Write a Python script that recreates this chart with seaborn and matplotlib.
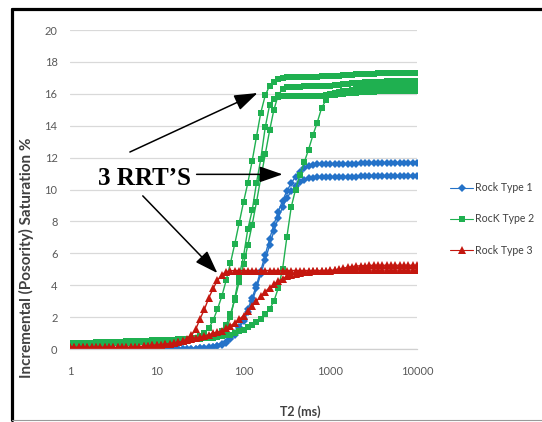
"""NMR T2 incremental saturation curves for three reservoir rock types."""

import matplotlib
matplotlib.use("Agg")
import matplotlib.pyplot as plt
from matplotlib.lines import Line2D
import numpy as np
import pandas as pd
import seaborn as sns

# T2 bins (ms), 20 per decade
T2_MS = [
    1.00, 1.12, 1.26, 1.41, 1.58, 1.78, 2.00, 2.24, 2.51, 2.82,
    3.16, 3.55, 3.98, 4.47, 5.01, 5.62, 6.31, 7.08, 7.94, 8.91,
    10.0, 11.2, 12.6, 14.1, 15.8, 17.8, 20.0, 22.4, 25.1, 28.2,
    31.6, 35.5, 39.8, 44.7, 50.1, 56.2, 63.1, 70.8, 79.4, 89.1,
    100, 112, 126, 141, 158, 178, 200, 224, 251, 282,
    316, 355, 398, 447, 501, 562, 631, 708, 794, 891,
    1000, 1122, 1259, 1413, 1585, 1778, 1995, 2239, 2512, 2818,
    3162, 3548, 3981, 4467, 5012, 5623, 6310, 7079, 7943, 8913,
    10000,
]

# Rock Type 1 (two samples)
RT1_A = [
    0, 0, 0, 0, 0, 0, 0, 0, 0, 0,
    0, 0, 0, 0, 0, 0, 0, 0, 0, 0,
    0, 0, 0, 0, 0, 0, 0, 0, 0.02, 0.03,
    0.05, 0.07, 0.1, 0.15, 0.2, 0.3, 0.45, 0.7, 1.0, 1.4,
    1.9, 2.5, 3.2, 4.0, 4.9, 5.9, 6.9, 7.8, 8.6, 9.3,
    9.9, 10.4, 10.8, 11.1, 11.35, 11.5, 11.55, 11.58, 11.6, 11.6,
    11.6, 11.6, 11.62, 11.62, 11.62, 11.63, 11.63, 11.64, 11.64, 11.64,
    11.65, 11.65, 11.65, 11.65, 11.65, 11.65, 11.65, 11.65, 11.65, 11.65,
    11.65,
]
RT1_B = [
    0, 0, 0, 0, 0, 0, 0, 0, 0, 0,
    0, 0, 0, 0, 0, 0, 0, 0, 0, 0,
    0, 0, 0, 0, 0, 0, 0, 0, 0.01, 0.02,
    0.04, 0.06, 0.09, 0.13, 0.18, 0.27, 0.4, 0.62, 0.9, 1.3,
    1.75, 2.3, 3.0, 3.8, 4.7, 5.6, 6.5, 7.4, 8.2, 8.9,
    9.45, 9.9, 10.2, 10.45, 10.6, 10.7, 10.75, 10.78, 10.8, 10.8,
    10.8, 10.8, 10.8, 10.8, 10.81, 10.81, 10.81, 10.82, 10.82, 10.82,
    10.82, 10.82, 10.82, 10.82, 10.82, 10.82, 10.82, 10.82, 10.82, 10.82,
    10.82,
]

# Rock Type 2 (four samples)
RT2_A = [
    0.3, 0.3, 0.31, 0.32, 0.33, 0.34, 0.35, 0.36, 0.37, 0.38,
    0.39, 0.4, 0.41, 0.42, 0.43, 0.44, 0.45, 0.46, 0.47, 0.48,
    0.5, 0.51, 0.52, 0.54, 0.56, 0.58, 0.6, 0.62, 0.65, 0.7,
    0.8, 1.0, 1.3, 1.8, 2.5, 3.3, 4.3, 5.4, 6.6, 7.9,
    9.2, 10.4, 11.8, 13.3, 14.8, 15.9, 16.5, 16.75, 16.9, 17.0,
    17.05, 17.05, 17.06, 17.06, 17.07, 17.07, 17.08, 17.08, 17.09, 17.09,
    17.1, 17.12, 17.14, 17.16, 17.18, 17.2, 17.22, 17.24, 17.25, 17.26,
    17.27, 17.28, 17.28, 17.29, 17.29, 17.3, 17.3, 17.3, 17.3, 17.3,
    17.3,
]
RT2_B = [
    0.25, 0.26, 0.27, 0.28, 0.29, 0.3, 0.31, 0.32, 0.33, 0.34,
    0.35, 0.36, 0.37, 0.38, 0.39, 0.4, 0.41, 0.42, 0.43, 0.44,
    0.45, 0.46, 0.47, 0.48, 0.5, 0.52, 0.55, 0.58, 0.6, 0.62,
    0.64, 0.66, 0.68, 0.7, 0.75, 0.8, 1.2, 2.0, 3.2, 4.6,
    5.8, 7.5, 8.7, 10.4, 11.9, 13.9, 15.3, 15.7, 15.8, 15.85,
    15.85, 15.86, 15.86, 15.87, 15.87, 15.88, 15.88, 15.89, 15.89, 15.9,
    15.92, 15.95, 15.98, 16.0, 16.03, 16.05, 16.08, 16.1, 16.12, 16.13,
    16.14, 16.15, 16.16, 16.17, 16.18, 16.19, 16.2, 16.2, 16.2, 16.2,
    16.2,
]
RT2_C = [
    0.28, 0.29, 0.3, 0.31, 0.32, 0.33, 0.34, 0.35, 0.36, 0.37,
    0.38, 0.39, 0.4, 0.41, 0.42, 0.43, 0.44, 0.45, 0.46, 0.47,
    0.48, 0.49, 0.5, 0.52, 0.54, 0.56, 0.58, 0.6, 0.62, 0.65,
    0.68, 0.7, 0.72, 0.75, 0.85, 1.1, 1.5, 2.2, 3.1, 4.2,
    5.3, 6.5, 7.8, 9.2, 10.7, 12.2, 13.7, 15.0, 15.9, 16.3,
    16.4, 16.42, 16.44, 16.45, 16.46, 16.47, 16.48, 16.49, 16.5, 16.5,
    16.52, 16.55, 16.58, 16.6, 16.63, 16.65, 16.68, 16.7, 16.72, 16.74,
    16.75, 16.76, 16.77, 16.78, 16.79, 16.8, 16.8, 16.8, 16.8, 16.8,
    16.8,
]
RT2_D = [
    0.35, 0.36, 0.37, 0.38, 0.39, 0.4, 0.41, 0.42, 0.43, 0.44,
    0.45, 0.46, 0.47, 0.48, 0.49, 0.5, 0.51, 0.52, 0.53, 0.54,
    0.55, 0.56, 0.57, 0.58, 0.59, 0.6, 0.6, 0.61, 0.62, 0.63,
    0.65, 0.67, 0.7, 0.72, 0.75, 0.8, 0.85, 0.9, 1.0, 1.1,
    1.2, 1.35, 1.5, 1.7, 1.9, 2.2, 2.5, 3.0, 3.8, 5.0,
    7.0, 8.9, 10.0, 10.9, 11.7, 12.5, 13.4, 14.2, 15.1, 15.6,
    16.0, 16.05, 16.1, 16.15, 16.2, 16.25, 16.3, 16.33, 16.36, 16.38,
    16.4, 16.42, 16.44, 16.45, 16.46, 16.47, 16.48, 16.49, 16.5, 16.5,
    16.5,
]

# Rock Type 3 (two samples)
RT3_A = [
    0.1, 0.1, 0.1, 0.1, 0.1, 0.1, 0.1, 0.1, 0.1, 0.1,
    0.1, 0.1, 0.1, 0.1, 0.12, 0.13, 0.15, 0.17, 0.2, 0.22,
    0.25, 0.27, 0.3, 0.33, 0.37, 0.42, 0.5, 0.62, 0.85, 1.25,
    1.9, 2.5, 3.2, 3.8, 4.3, 4.65, 4.85, 4.9, 4.92, 4.92,
    4.92, 4.92, 4.92, 4.92, 4.92, 4.92, 4.92, 4.92, 4.92, 4.92,
    4.92, 4.92, 4.92, 4.92, 4.92, 4.92, 4.92, 4.92, 4.92, 4.92,
    4.93, 4.93, 4.93, 4.93, 4.94, 4.94, 4.94, 4.94, 4.95, 4.95,
    4.95, 4.95, 4.95, 4.95, 4.95, 4.95, 4.95, 4.95, 4.95, 4.95,
    4.95,
]
RT3_B = [
    0.1, 0.1, 0.1, 0.1, 0.1, 0.1, 0.1, 0.1, 0.1, 0.1,
    0.1, 0.1, 0.1, 0.1, 0.12, 0.13, 0.15, 0.17, 0.2, 0.22,
    0.25, 0.27, 0.3, 0.33, 0.37, 0.42, 0.48, 0.55, 0.62, 0.68,
    0.75, 0.82, 0.9, 0.98, 1.05, 1.15, 1.3, 1.45, 1.65, 1.85,
    2.1, 2.4, 2.7, 3.0, 3.3, 3.6, 3.85, 4.05, 4.25, 4.4,
    4.55, 4.65, 4.72, 4.78, 4.82, 4.85, 4.87, 4.88, 4.89, 4.9,
    4.92, 4.95, 5.0, 5.06, 5.12, 5.16, 5.2, 5.22, 5.23, 5.24,
    5.25, 5.25, 5.25, 5.25, 5.25, 5.25, 5.25, 5.25, 5.25, 5.25,
    5.25,
]

ROCK_NAMES = ["Rock Type 1", "RocK Type 2", "Rock Type 3"]
PALETTE = {"Rock Type 1": "#2472c8", "RocK Type 2": "#1fb050", "Rock Type 3": "#c4170f"}
MARKERS = {"Rock Type 1": "D", "RocK Type 2": "s", "Rock Type 3": "^"}
MARKER_SIZES = {"Rock Type 1": 4.0, "RocK Type 2": 4.6, "Rock Type 3": 5.6}

samples = [
    ("Rock Type 1", "1a", RT1_A), ("Rock Type 1", "1b", RT1_B),
    ("RocK Type 2", "2a", RT2_A), ("RocK Type 2", "2b", RT2_B),
    ("RocK Type 2", "2c", RT2_C), ("RocK Type 2", "2d", RT2_D),
    ("Rock Type 3", "3a", RT3_A), ("Rock Type 3", "3b", RT3_B),
]

frames = []
for rock, sample, values in samples:
    frames.append(pd.DataFrame({"T2": T2_MS, "Saturation": values,
                                "Rock": rock, "Sample": sample}))
df = pd.concat(frames, ignore_index=True)

sns.set_theme(style="white")
plt.rcParams["font.family"] = ["Lato", "DejaVu Sans"]

fig = plt.figure(figsize=(5.42, 4.22), dpi=100)
ax = fig.add_axes([70 / 542, 1 - 349 / 422, 347 / 542, 319 / 422])

for rock in ROCK_NAMES:
    sns.lineplot(
        data=df[df["Rock"] == rock], x="T2", y="Saturation",
        units="Sample", estimator=None, color=PALETTE[rock],
        marker=MARKERS[rock], markersize=MARKER_SIZES[rock],
        markeredgewidth=0, linewidth=1.0, legend=False, ax=ax,
    )

ax.set_xscale("log")
ax.set_xlim(1, 10000)
ax.set_ylim(0, 20)
ax.set_xticks([1, 10, 100, 1000, 10000])
ax.set_xticklabels(["1", "10", "100", "1000", "10000"])
ax.xaxis.set_minor_locator(matplotlib.ticker.NullLocator())
ax.set_yticks(np.arange(0, 21, 2))
ax.tick_params(axis="both", length=0, labelsize=8, labelcolor="#595959")
ax.tick_params(axis="x", pad=12)
ax.tick_params(axis="y", pad=9)
ax.yaxis.grid(True, color="#d9d9d9", linewidth=0.9)
ax.xaxis.grid(False)
for side in ["top", "right", "left"]:
    ax.spines[side].set_visible(False)
ax.spines["bottom"].set_color("#d0d0d0")
ax.spines["bottom"].set_linewidth(0.9)

ax.set_xlabel("T2 (ms)", fontsize=9, fontweight="bold", color="#404040")
ax.xaxis.set_label_coords((300 - 70) / 347, (349 - 405) / 319)
ax.set_ylabel("Incremental (Posority) Saturation %", fontsize=11,
              fontweight="bold", color="#404040")
ax.yaxis.set_label_coords((34 - 70) / 347, (349 - 258) / 319)

# legend outside the plot, Excel style
handles = [Line2D([0], [0], color=PALETTE[r], marker=MARKERS[r],
                  markersize=MARKER_SIZES[r], markeredgewidth=0,
                  linewidth=0.8) for r in ROCK_NAMES]
fig.legend(handles, ROCK_NAMES, loc="center left",
           bbox_to_anchor=(446 / 542, 1 - 219 / 422), frameon=False,
           fontsize=7.6, labelcolor="#404040", handlelength=2.2,
           handletextpad=0.15, labelspacing=1.9, borderaxespad=0)

# annotation
serif = ["Liberation Serif", "DejaVu Serif"]
ax.text(7.2, 10.72, "3 RRT\u2019S", fontsize=18, fontweight="bold",
        family=serif, ha="center", va="center", color="black")
arrow = dict(arrowstyle="-|>,head_length=0.95,head_width=0.33",
             mutation_scale=15, color="black", lw=1.1, shrinkA=0, shrinkB=0)
ax.annotate("", xy=(145, 16.05), xytext=(4.9, 12.35), arrowprops=arrow)
ax.annotate("", xy=(282, 10.95), xytext=(28.8, 10.95), arrowprops=arrow)
ax.annotate("", xy=(50, 4.76), xytext=(6.9, 9.6), arrowprops=arrow)

# outer frame
fig.add_artist(Line2D([12 / 542, 1], [1 - 9 / 422, 1 - 9 / 422],
                      transform=fig.transFigure, color="black", lw=2.3))
fig.add_artist(Line2D([12 / 542, 12 / 542], [1 - 9 / 422, 1 - 420 / 422],
                      transform=fig.transFigure, color="black", lw=2.3))
fig.add_artist(Line2D([12 / 542, 1], [1 - 420 / 422, 1 - 420 / 422],
                      transform=fig.transFigure, color="#9a9a9a", lw=0.8))

fig.savefig("out.png", dpi=100)
plt.close(fig)
print("Chart saved to: out.png")
